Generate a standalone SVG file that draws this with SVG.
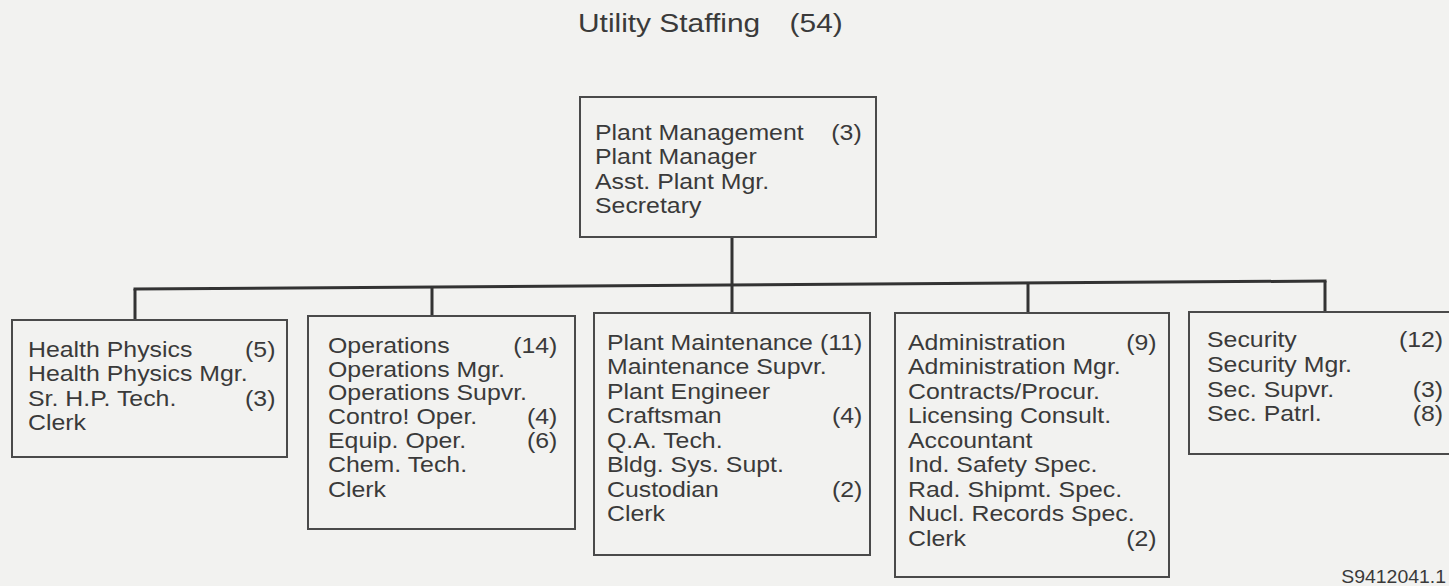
<svg xmlns="http://www.w3.org/2000/svg" width="1449" height="586" viewBox="0 0 1449 586">
<style>
  text { font-family: "Liberation Sans", Arial, sans-serif; font-size: 22px; fill: #3a3a3a; }
  .title { font-size: 26px; }
  .foot { font-size: 18px; }
  .box { fill: none; stroke: #4a4a4a; stroke-width: 2; }
  .conn { fill: none; stroke: #333; stroke-width: 3; }
  .r { text-anchor: end; }
</style>
<rect x="0" y="0" width="1449" height="586" fill="#f2f2f0"/>

<g id="title" transform="translate(578 0) scale(1.15 1)">
  <text class="title" x="0" y="32">Utility Staffing</text>
  <text class="title" x="184" y="32">(54)</text>
</g>

<g id="connectors">
  <line class="conn" x1="732" y1="237" x2="732" y2="284"/>
  <line class="conn" x1="133.5" y1="289" x2="1326.5" y2="281"/>
  <line class="conn" x1="135" y1="289" x2="135" y2="320"/>
  <line class="conn" x1="432" y1="287" x2="432" y2="316"/>
  <line class="conn" x1="732" y1="285" x2="732" y2="313"/>
  <line class="conn" x1="1028" y1="283" x2="1028" y2="313"/>
  <line class="conn" x1="1325" y1="281" x2="1325" y2="312"/>
</g>

<g id="plant-management">
  <rect class="box" x="580" y="97" width="296" height="140"/>
  <g transform="translate(595 0) scale(1.13 1)">
    <text x="0" y="140">Plant Management</text>
    <text class="r" x="236" y="140">(3)</text>
    <text x="0" y="164">Plant Manager</text>
    <text x="0" y="189">Asst. Plant Mgr.</text>
    <text x="0" y="213">Secretary</text>
  </g>
</g>

<g id="health-physics">
  <rect class="box" x="12" y="320" width="275" height="137"/>
  <g transform="translate(28 0) scale(1.13 1)">
    <text x="0" y="357">Health Physics</text>
    <text class="r" x="219" y="357">(5)</text>
    <text x="0" y="381">Health Physics Mgr.</text>
    <text x="0" y="406">Sr. H.P. Tech.</text>
    <text class="r" x="219" y="406">(3)</text>
    <text x="0" y="430">Clerk</text>
  </g>
</g>

<g id="operations">
  <rect class="box" x="308" y="316" width="267" height="213"/>
  <g transform="translate(328 0) scale(1.13 1)">
    <text x="0" y="353">Operations</text>
    <text class="r" x="203" y="353">(14)</text>
    <text x="0" y="377">Operations Mgr.</text>
    <text x="0" y="400">Operations Supvr.</text>
    <text x="0" y="424">Contro! Oper.</text>
    <text class="r" x="203" y="424">(4)</text>
    <text x="0" y="448">Equip. Oper.</text>
    <text class="r" x="203" y="448">(6)</text>
    <text x="0" y="472">Chem. Tech.</text>
    <text x="0" y="497">Clerk</text>
  </g>
</g>

<g id="plant-maintenance">
  <rect class="box" x="594" y="313" width="276" height="242"/>
  <g transform="translate(607 0) scale(1.13 1)">
    <text x="0" y="350">Plant Maintenance</text>
    <text class="r" x="226" y="350">(11)</text>
    <text x="0" y="374.5">Maintenance Supvr.</text>
    <text x="0" y="399">Plant Engineer</text>
    <text x="0" y="423.5">Craftsman</text>
    <text class="r" x="226" y="423.5">(4)</text>
    <text x="0" y="448">Q.A. Tech.</text>
    <text x="0" y="472.5">Bldg. Sys. Supt.</text>
    <text x="0" y="497">Custodian</text>
    <text class="r" x="226" y="497">(2)</text>
    <text x="0" y="521.5">Clerk</text>
  </g>
</g>

<g id="administration">
  <rect class="box" x="895" y="313" width="274" height="264"/>
  <g transform="translate(908 0) scale(1.13 1)">
    <text x="0" y="350">Administration</text>
    <text class="r" x="220" y="350">(9)</text>
    <text x="0" y="374.5">Administration Mgr.</text>
    <text x="0" y="399">Contracts/Procur.</text>
    <text x="0" y="423.5">Licensing Consult.</text>
    <text x="0" y="448">Accountant</text>
    <text x="0" y="472.5">Ind. Safety Spec.</text>
    <text x="0" y="497">Rad. Shipmt. Spec.</text>
    <text x="0" y="521.5">Nucl. Records Spec.</text>
    <text x="0" y="546">Clerk</text>
    <text class="r" x="220" y="546">(2)</text>
  </g>
</g>

<g id="security">
  <rect class="box" x="1189" y="312" width="275" height="142"/>
  <g transform="translate(1207 0) scale(1.13 1)">
    <text x="0" y="347">Security</text>
    <text class="r" x="209" y="347">(12)</text>
    <text x="0" y="372">Security Mgr.</text>
    <text x="0" y="397">Sec. Supvr.</text>
    <text class="r" x="209" y="397">(3)</text>
    <text x="0" y="421">Sec. Patrl.</text>
    <text class="r" x="209" y="421">(8)</text>
  </g>
</g>

<g id="footnote" transform="translate(1446 0) scale(1.08 1)">
  <text class="foot r" x="0" y="583">S9412041.1</text>
</g>
</svg>
